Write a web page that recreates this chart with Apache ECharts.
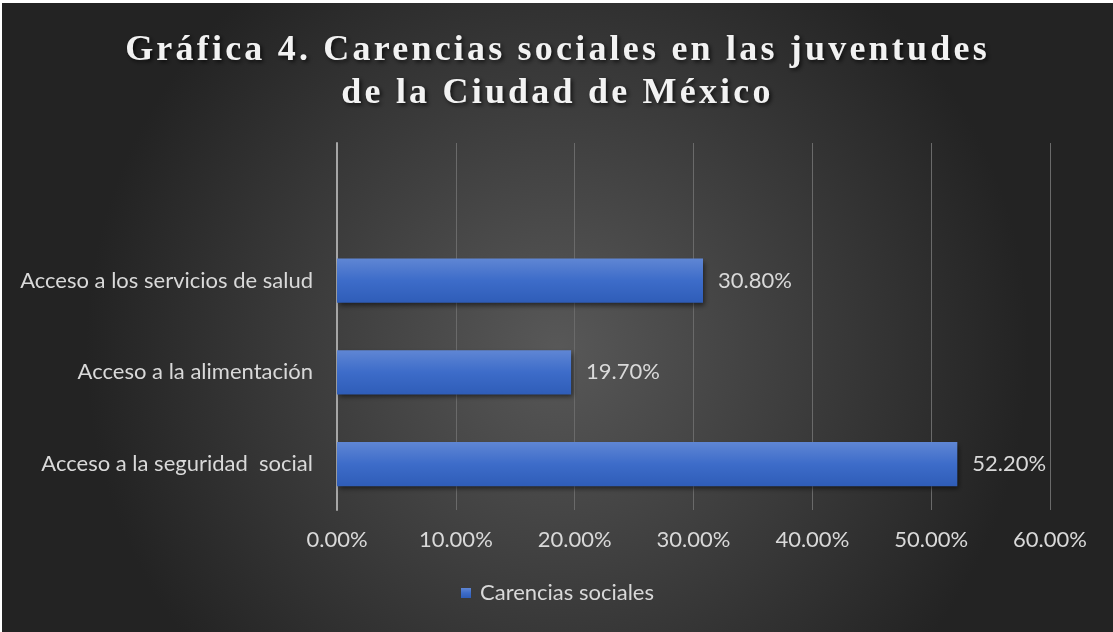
<!DOCTYPE html>
<html>
<head>
<meta charset="utf-8">
<script src="https://cdn.jsdelivr.net/npm/echarts@6/dist/echarts.min.js"></script>
<style>
html,body{margin:0;padding:0;background:#fff;}
#c{position:absolute;left:2px;top:3px;width:1111px;height:629px;}
</style>
</head>
<body>
<div id="c"></div>
<script>
const titleLines = ['Gráfica 4. Carencias sociales en las juventudes', 'de la Ciudad de México'];
const categories = ['Acceso a la seguridad  social', 'Acceso a la alimentación', 'Acceso a los servicios de salud', ''];
const seriesName = 'Carencias sociales';
const values = [0.522, 0.197, 0.308, null];
const xTicks = [0, 0.1, 0.2, 0.3, 0.4, 0.5, 0.6];

// Letter-spacing for the serif title font (canvas supports ctx.letterSpacing)
(function () {
  const P = CanvasRenderingContext2D.prototype;
  const TITLE_SPACING = '3.2px';
  function apply(ctx) {
    if ('letterSpacing' in ctx) {
      ctx.letterSpacing = (ctx.font || '').indexOf('Liberation Serif') >= 0 ? TITLE_SPACING : '0px';
    }
  }
  const fT = P.fillText, sT = P.strokeText, mT = P.measureText;
  P.fillText = function () { apply(this); return fT.apply(this, arguments); };
  P.strokeText = function () { apply(this); return sT.apply(this, arguments); };
  P.measureText = function () { apply(this); return mT.apply(this, arguments); };
})();

const chart = echarts.init(document.getElementById('c'));
const labelFont = 'Lato';
const labelSize = 22;
chart.setOption({
  backgroundColor: {
    type: 'radial', x: 0.5, y: 0.55, r: 0.75,
    colorStops: [{offset: 0, color: '#585858'}, {offset: 1, color: '#232323'}]
  },
  title: {
    text: titleLines.join('\n'),
    left: 'center', top: 21,
    textStyle: {
      fontFamily: 'Liberation Serif', fontWeight: 'bold', fontSize: 36,
      color: '#f2f2f2', lineHeight: 43,
      textShadowColor: 'rgba(0,0,0,0.7)', textShadowBlur: 4, textShadowOffsetX: 2, textShadowOffsetY: 2
    }
  },
  legend: {
    data: [seriesName], bottom: 23, left: 'center',
    itemWidth: 10, itemHeight: 10, itemGap: 4,
    icon: 'rect',
    textStyle: {color: '#d9d9d9', fontSize: labelSize, fontFamily: labelFont, padding: [0, 0, 0, 4]}
  },
  grid: {left: 335, right: 63, top: 140, bottom: 122},
  xAxis: {
    type: 'value', min: 0, max: 0.6, interval: 0.1,
    axisLine: {show: false}, axisTick: {show: false},
    splitLine: {lineStyle: {color: '#6a6a6a', width: 1}},
    axisLabel: {
      color: '#d9d9d9', fontSize: labelSize, fontFamily: labelFont, margin: 19,
      formatter: v => (v * 100).toFixed(2) + '%'
    }
  },
  yAxis: {
    type: 'category', data: categories,
    axisLine: {show: true, lineStyle: {color: '#a6a6a6', width: 2}},
    axisTick: {show: false},
    axisLabel: {color: '#d9d9d9', fontSize: labelSize, fontFamily: labelFont, margin: 24}
  },
  series: [{
    name: seriesName, type: 'bar', data: values, barWidth: '48%',
    itemStyle: {
      color: {
        type: 'linear', x: 0, y: 0, x2: 0, y2: 1,
        colorStops: [{offset: 0, color: '#5f86d4'}, {offset: 0.5, color: '#3d6cc9'}, {offset: 1, color: '#2f5db8'}]
      },
      shadowColor: 'rgba(0,0,0,0.55)', shadowBlur: 5, shadowOffsetX: 2, shadowOffsetY: 3
    },
    label: {
      show: true, position: 'right', distance: 15,
      color: '#d9d9d9', fontSize: labelSize, fontFamily: labelFont,
      formatter: p => p.value == null ? '' : (p.value * 100).toFixed(2) + '%'
    }
  }]
});
</script>
</body>
</html>
